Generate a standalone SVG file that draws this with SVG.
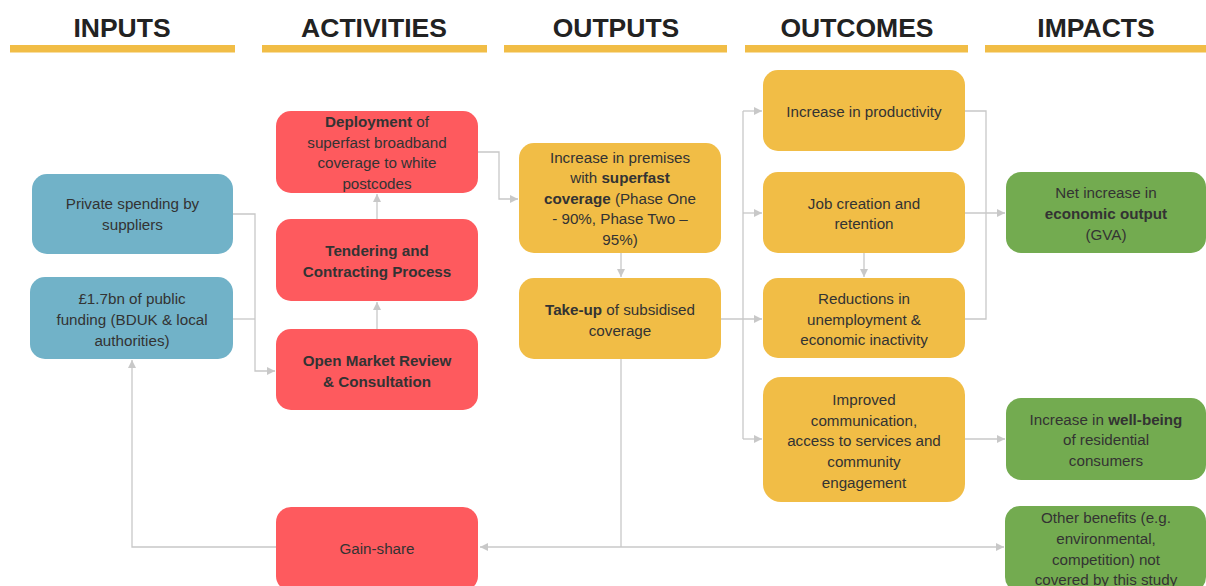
<svg xmlns="http://www.w3.org/2000/svg" width="1206" height="586" viewBox="0 0 1206 586">
<style>
.hdr{font-family:"Liberation Sans",Arial,sans-serif;font-weight:bold;font-size:26.5px;fill:#222;text-anchor:middle}
.bar{fill:#F1BD46}
.t{font-family:"Liberation Sans",Arial,sans-serif;font-size:15.2px;fill:#333;text-anchor:middle}
.b{font-weight:bold}
.blue{fill:#71B2C8}
.red{fill:#FE5A5E}
.yel{fill:#F1BD46}
.grn{fill:#73AB50}
.c{fill:none;stroke:#C8C8C8;stroke-width:1.3}
</style>
<defs>
<marker id="ah" markerWidth="9" markerHeight="9" refX="8" refY="4" orient="auto" markerUnits="userSpaceOnUse">
<path d="M0,0 L8,4 L0,8 z" fill="#C8C8C8"/>
</marker>
</defs>
<rect width="1206" height="586" fill="#fff"/>
<g id="headers">
<text class="hdr" x="122" y="37">INPUTS</text>
<rect class="bar" x="10" y="45" width="225" height="7.5"/>
<text class="hdr" x="374" y="37">ACTIVITIES</text>
<rect class="bar" x="262" y="45" width="225" height="7.5"/>
<text class="hdr" x="616" y="37">OUTPUTS</text>
<rect class="bar" x="504" y="45" width="223" height="7.5"/>
<text class="hdr" x="857" y="37">OUTCOMES</text>
<rect class="bar" x="745" y="45" width="223" height="7.5"/>
<text class="hdr" x="1096" y="37">IMPACTS</text>
<rect class="bar" x="985" y="45" width="221" height="7.5"/>
</g>
<g id="connectors">
<path class="c" d="M233,214 H255 V371 H275" marker-end="url(#ah)"/>
<path class="c" d="M233,319 H255"/>
<path class="c" d="M377,329 V302" marker-end="url(#ah)"/>
<path class="c" d="M377,219 V194" marker-end="url(#ah)"/>
<path class="c" d="M478,152 H499 V199 H518" marker-end="url(#ah)"/>
<path class="c" d="M621,253 V277" marker-end="url(#ah)"/>
<path class="c" d="M721,319 H762" marker-end="url(#ah)"/>
<path class="c" d="M743,111 V439"/>
<path class="c" d="M743,111 H762" marker-end="url(#ah)"/>
<path class="c" d="M743,213 H762" marker-end="url(#ah)"/>
<path class="c" d="M743,439 H762" marker-end="url(#ah)"/>
<path class="c" d="M864,253 V277" marker-end="url(#ah)"/>
<path class="c" d="M965,111 H986 V319 H965"/>
<path class="c" d="M965,213 H1005" marker-end="url(#ah)"/>
<path class="c" d="M965,439 H1005" marker-end="url(#ah)"/>
<path class="c" d="M621,359 V547"/>
<path class="c" d="M621,547 H480" marker-end="url(#ah)"/>
<path class="c" d="M621,547 H1004" marker-end="url(#ah)"/>
<path class="c" d="M276,547 H132 V360" marker-end="url(#ah)"/>
</g>
<g id="private">
<rect class="blue" x="32" y="174" width="201" height="80" rx="15"/>
<text class="t" x="132.5" y="208.5">Private spending by</text>
<text class="t" x="132.5" y="229.5">suppliers</text>
</g>
<g id="public">
<rect class="blue" x="30" y="277" width="203" height="82" rx="15"/>
<text class="t" x="132" y="303.5">£1.7bn of public</text>
<text class="t" x="132" y="324.5">funding (BDUK &amp; local</text>
<text class="t" x="132" y="345.5">authorities)</text>
</g>
<g id="deployment">
<rect class="red" x="276" y="111" width="202" height="82" rx="15"/>
<text class="t" x="377" y="127"><tspan class="b">Deployment</tspan> of</text>
<text class="t" x="377" y="147.5">superfast broadband</text>
<text class="t" x="377" y="168">coverage to white</text>
<text class="t" x="377" y="188.5">postcodes</text>
</g>
<g id="tendering">
<rect class="red" x="276" y="219" width="202" height="82" rx="15"/>
<text class="t b" x="377" y="256">Tendering and</text>
<text class="t b" x="377" y="277">Contracting Process</text>
</g>
<g id="omr">
<rect class="red" x="276" y="329" width="202" height="81" rx="15"/>
<text class="t b" x="377" y="366">Open Market Review</text>
<text class="t b" x="377" y="386.5">&amp; Consultation</text>
</g>
<g id="gainshare">
<rect class="red" x="276" y="507" width="202" height="84" rx="15"/>
<text class="t" x="377" y="553.5">Gain-share</text>
</g>
<g id="premises">
<rect class="yel" x="519" y="143" width="202" height="110" rx="15"/>
<text class="t" x="620" y="162.5">Increase in premises</text>
<text class="t" x="620" y="183">with <tspan class="b">superfast</tspan></text>
<text class="t" x="620" y="203.5"><tspan class="b">coverage</tspan> (Phase One</text>
<text class="t" x="620" y="224">- 90%, Phase Two –</text>
<text class="t" x="620" y="244.5">95%)</text>
</g>
<g id="takeup">
<rect class="yel" x="519" y="278" width="202" height="81" rx="15"/>
<text class="t" x="620" y="314.5"><tspan class="b">Take-up</tspan> of subsidised</text>
<text class="t" x="620" y="335.5">coverage</text>
</g>
<g id="productivity">
<rect class="yel" x="763" y="70" width="202" height="81" rx="15"/>
<text class="t" x="864" y="116.5">Increase in productivity</text>
</g>
<g id="jobs">
<rect class="yel" x="763" y="172" width="202" height="81" rx="15"/>
<text class="t" x="864" y="208.5">Job creation and</text>
<text class="t" x="864" y="229">retention</text>
</g>
<g id="reductions">
<rect class="yel" x="763" y="278" width="202" height="80" rx="15"/>
<text class="t" x="864" y="303.5">Reductions in</text>
<text class="t" x="864" y="324.5">unemployment &amp;</text>
<text class="t" x="864" y="345">economic inactivity</text>
</g>
<g id="improved">
<rect class="yel" x="763" y="377" width="202" height="125" rx="18"/>
<text class="t" x="864" y="404.5">Improved</text>
<text class="t" x="864" y="425.5">communication,</text>
<text class="t" x="864" y="446">access to services and</text>
<text class="t" x="864" y="466.5">community</text>
<text class="t" x="864" y="487.5">engagement</text>
</g>
<g id="gva">
<rect class="grn" x="1006" y="172" width="200" height="81" rx="15"/>
<text class="t" x="1106" y="197.5">Net increase in</text>
<text class="t" x="1106" y="218.5"><tspan class="b">economic output</tspan></text>
<text class="t" x="1106" y="239.5">(GVA)</text>
</g>
<g id="wellbeing">
<rect class="grn" x="1006" y="398" width="200" height="82" rx="15"/>
<text class="t" x="1106" y="424.5">Increase in <tspan class="b">well-being</tspan></text>
<text class="t" x="1106" y="445">of residential</text>
<text class="t" x="1106" y="465.5">consumers</text>
</g>
<g id="other">
<rect class="grn" x="1005" y="506" width="201" height="86" rx="15"/>
<text class="t" x="1106" y="522.5">Other benefits (e.g.</text>
<text class="t" x="1106" y="544">environmental,</text>
<text class="t" x="1106" y="564.5">competition) not</text>
<text class="t" x="1106" y="584.5">covered by this study</text>
</g>
</svg>
